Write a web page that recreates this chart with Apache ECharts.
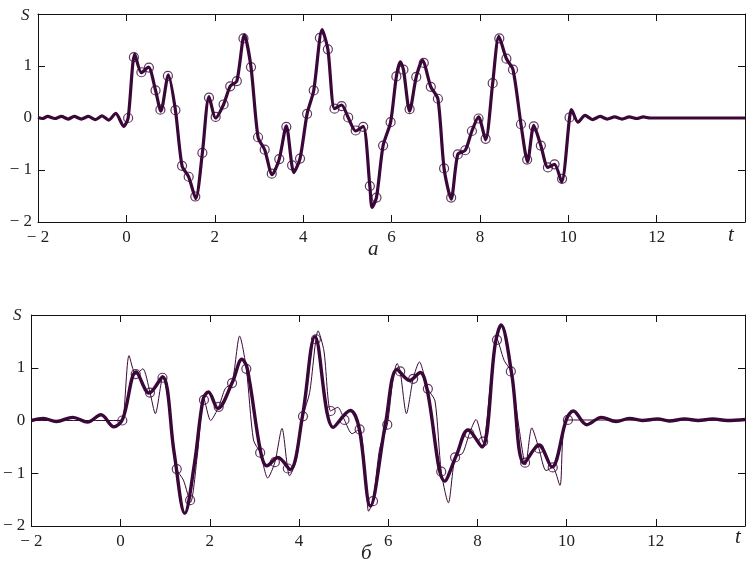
<!DOCTYPE html>
<html>
<head>
<meta charset="utf-8">
<script src="https://cdn.jsdelivr.net/npm/echarts@6/dist/echarts.min.js"></script>
<style>
    html, body { margin: 0; background: #fff; }
    #chart { width: 748px; height: 568px; }
</style>
</head>
<body>
<div id="chart"></div>
<script>
    // axis ticks
    const xTicks = [-2, 0, 2, 4, 6, 8, 10, 12];
    const yTicks = [-2, -1, 0, 1];

    // (a) samples, circles
    const sampleT = [0.04, 0.17, 0.34, 0.51, 0.66, 0.77, 0.94, 1.11, 1.26, 1.41, 1.56, 1.72, 1.87, 2.02, 2.20, 2.35, 2.50, 2.65, 2.82, 2.98,
        3.13, 3.29, 3.46, 3.62, 3.75, 3.93, 4.09, 4.24, 4.38, 4.56, 4.71, 4.87, 5.02, 5.19, 5.36, 5.51, 5.66, 5.81, 5.98, 6.11,
        6.27, 6.41, 6.56, 6.73, 6.89, 7.05, 7.19, 7.35, 7.50, 7.67, 7.82, 7.97, 8.13, 8.29, 8.44, 8.60, 8.75, 8.93, 9.07, 9.22,
        9.38, 9.54, 9.69, 9.86, 10.03];
    const sampleS = [0.00, 1.17, 0.88, 0.97, 0.53, 0.16, 0.81, 0.15, -0.92, -1.13, -1.51, -0.67, 0.39, 0.02, 0.26, 0.61, 0.71, 1.53, 0.98, -0.37,
        -0.61, -1.07, -0.79, -0.17, -0.91, -0.78, 0.08, 0.53, 1.54, 1.32, 0.18, 0.23, 0.01, -0.24, -0.17, -1.31, -1.53, -0.53, -0.08, 0.80,
        0.93, 0.17, 0.79, 1.06, 0.60, 0.37, -0.97, -1.53, -0.70, -0.62, -0.25, -0.01, -0.40, 0.67, 1.53, 1.14, 0.93, -0.12, -0.80, -0.16,
        -0.53, -0.95, -0.89, -1.17, 0.01];

    // signal s(t) on [0, 10]
    const sigT = [0.04, 0.19, 0.34, 0.50, 0.66, 0.78, 0.95, 1.11, 1.26, 1.41, 1.57, 1.72, 1.87, 2.02, 2.20, 2.35, 2.50, 2.67, 2.82, 2.98,
        3.13, 3.30, 3.46, 3.62, 3.79, 3.93, 4.09, 4.24, 4.43, 4.56, 4.71, 4.87, 5.02, 5.19, 5.36, 5.51, 5.56, 5.66, 5.81, 5.98,
        6.11, 6.20, 6.27, 6.41, 6.56, 6.70, 6.89, 7.05, 7.19, 7.35, 7.50, 7.67, 7.82, 7.97, 8.13, 8.29, 8.43, 8.60, 8.75, 8.93,
        9.08, 9.22, 9.38, 9.54, 9.69, 9.85, 10.03];
    const sigS = [0.00, 1.23, 0.87, 0.98, 0.53, 0.13, 0.83, 0.15, -0.92, -1.13, -1.55, -0.67, 0.41, 0.00, 0.26, 0.61, 0.71, 1.60, 0.98, -0.37,
        -0.61, -1.09, -0.79, -0.15, -1.05, -0.78, 0.08, 0.53, 1.70, 1.32, 0.18, 0.25, 0.01, -0.25, -0.16, -1.31, -1.72, -1.53, -0.53, -0.08,
        0.80, 1.08, 0.93, 0.13, 0.79, 1.11, 0.60, 0.37, -0.97, -1.56, -0.70, -0.62, -0.25, 0.02, -0.42, 0.67, 1.57, 1.14, 0.93, -0.12,
        -0.84, -0.14, -0.53, -0.95, -0.89, -1.23, 0.01];

    // (a) ripple before and after the signal
    const preT = [-2.00, -1.90, -1.78, -1.62, -1.47, -1.32, -1.18, -1.02, -0.86, -0.70, -0.55, -0.40, -0.24, -0.06];
    const preS = [0.01, -0.01, 0.03, -0.01, 0.03, -0.02, 0.03, -0.02, 0.03, -0.03, 0.04, -0.04, 0.09, -0.16];
    const postT = [10.07, 10.22, 10.38, 10.55, 10.72, 10.88, 11.05, 11.22, 11.38, 11.55, 11.70, 11.85, 14.00];
    const postS = [0.16, -0.08, 0.05, -0.03, 0.03, -0.02, 0.02, -0.02, 0.02, -0.01, 0.02, 0.00, 0.00];

    // (б) sparse samples
    const sparseT = [0.04, 0.34, 0.66, 0.94, 1.26, 1.56, 1.87, 2.20, 2.50, 2.82, 3.13, 3.46, 3.75, 4.09, 4.38, 4.71, 5.02, 5.36, 5.66, 5.98,
        6.27, 6.56, 6.89, 7.19, 7.50, 7.82, 8.13, 8.44, 8.75, 9.07, 9.38, 9.69, 10.03];
    const sparseS = [0.00, 0.88, 0.53, 0.81, -0.92, -1.51, 0.39, 0.26, 0.71, 0.98, -0.61, -0.79, -0.91, 0.08, 1.54, 0.18, 0.01, -0.17, -1.53, -0.08,
        0.93, 0.79, 0.60, -0.97, -0.70, -0.25, -0.40, 1.53, 0.93, -0.80, -0.53, -0.89, 0.01];

    // (б) reconstruction
    const recT = [-2.00, -1.73, -1.44, -1.07, -0.74, -0.44, -0.15, 0.05, 0.35, 0.64, 0.94, 1.20, 1.44, 1.66, 1.85, 1.97, 2.18, 2.51, 2.72, 2.84,
        3.14, 3.28, 3.53, 3.80, 4.08, 4.36, 4.77, 5.15, 5.35, 5.60, 5.94, 6.20, 6.48, 6.72, 6.87, 7.27, 7.53, 7.79, 8.10, 8.40,
        8.53, 8.77, 9.05, 9.38, 9.67, 10.00, 10.15, 10.45, 10.78, 11.11, 11.41, 11.70, 12.04, 12.30, 12.65, 12.95, 13.28, 13.60, 14.00];
    const recS = [0.00, 0.04, -0.02, 0.06, -0.03, 0.11, -0.12, 0.03, 0.92, 0.52, 0.83, -0.60, -1.76, -0.80, 0.40, 0.54, 0.23, 0.73, 1.16, 0.99,
        -0.59, -0.86, -0.70, -0.93, 0.09, 1.59, -0.13, 0.19, -0.15, -1.62, -0.06, 0.97, 0.76, 0.91, 0.60, -1.15, -0.66, -0.18, -0.50, 1.45,
        1.81, 0.88, -0.81, -0.47, -0.88, 0.03, 0.18, -0.08, 0.06, -0.02, 0.04, 0.00, 0.03, -0.01, 0.03, 0.00, 0.03, 0.00, 0.02];

    const ink = '#3a0838';
    const serif = '"Liberation Serif", "Times New Roman", serif';

    function pairs (ts, ss) {
        return ts.map(function (t, i) { return [t, ss[i]]; });
    }
    const topLine = pairs(preT, preS).concat(pairs(sigT, sigS), pairs(postT, postS));
    const thinLine = [[-2, 0], [-0.06, 0]].concat(pairs(sigT, sigS), [[14, 0]]);

    function minusFmt (v) {
        if (v < 0) return '\u2212 ' + Math.abs(v);
        return String(v);
    }

    function xAxisFor (grid, pos) {
        return {
            gridIndex: grid, type: 'value', position: pos,
            min: -2, max: 14, interval: 2,
            axisLine: { onZero: false, lineStyle: { color: '#111', width: 1 } },
            axisTick: { inside: true, length: 7, lineStyle: { color: '#111' } },
            axisLabel: {
                show: pos === 'bottom', margin: 7, color: '#222', fontSize: 17, fontFamily: serif,
                formatter: function (v) { return xTicks.indexOf(v) >= 0 ? minusFmt(v) : ''; }
            },
            splitLine: { show: false }
        };
    }
    function yAxisFor (grid, pos) {
        return {
            gridIndex: grid, type: 'value', position: pos,
            min: -2, max: 2, interval: 1,
            axisLine: { onZero: false, lineStyle: { color: '#111', width: 1 } },
            axisTick: { inside: true, length: 7, lineStyle: { color: '#111' } },
            axisLabel: {
                show: pos === 'left', margin: 6, color: '#222', fontSize: 17, fontFamily: serif,
                formatter: function (v) { return yTicks.indexOf(v) >= 0 ? minusFmt(v) : ''; }
            },
            splitLine: { show: false }
        };
    }

    const option = {
        backgroundColor: '#fff',
        animation: false,
        grid: [
            { left: 38, top: 14, width: 712, height: 208 },
            { left: 30, top: 315, width: 722, height: 211 }
        ],
        xAxis: [xAxisFor(0, 'bottom'), xAxisFor(0, 'top'), xAxisFor(1, 'bottom'), xAxisFor(1, 'top')],
        yAxis: [yAxisFor(0, 'left'), yAxisFor(0, 'right'), yAxisFor(1, 'left'), yAxisFor(1, 'right')],
        series: [
            {
                type: 'line', xAxisIndex: 0, yAxisIndex: 0, data: topLine,
                showSymbol: false, smooth: 0.25,
                lineStyle: { color: ink, width: 3.2 }
            },
            {
                type: 'scatter', xAxisIndex: 0, yAxisIndex: 0, data: pairs(sampleT, sampleS),
                symbol: 'circle', symbolSize: 9,
                itemStyle: { color: 'rgba(255,255,255,0)', borderColor: ink, borderWidth: 1.2 }
            },
            {
                type: 'line', xAxisIndex: 2, yAxisIndex: 2, data: thinLine,
                showSymbol: false, smooth: 0.25,
                lineStyle: { color: ink, width: 1 }
            },
            {
                type: 'line', xAxisIndex: 2, yAxisIndex: 2, data: pairs(recT, recS),
                showSymbol: false, smooth: 0.35,
                lineStyle: { color: ink, width: 3.4 }
            },
            {
                type: 'scatter', xAxisIndex: 2, yAxisIndex: 2, data: pairs(sparseT, sparseS),
                symbol: 'circle', symbolSize: 9,
                itemStyle: { color: 'rgba(255,255,255,0)', borderColor: ink, borderWidth: 1.2 }
            }
        ],
        graphic: [
            { type: 'text', left: 21, top: 7, style: { text: 'S', font: 'italic 17px ' + serif, fill: '#222' } },
            { type: 'text', left: 13, top: 307, style: { text: 'S', font: 'italic 17px ' + serif, fill: '#222' } },
            { type: 'text', left: 728, top: 225, style: { text: 't', font: 'italic 21px ' + serif, fill: '#222' } },
            { type: 'text', left: 735, top: 527, style: { text: 't', font: 'italic 21px ' + serif, fill: '#222' } },
            { type: 'text', left: 368, top: 239, style: { text: 'а', font: 'italic 21px ' + serif, fill: '#222' } },
            { type: 'text', left: 361, top: 543, style: { text: 'б', font: 'italic 21px ' + serif, fill: '#222' } }
        ]
    };

    const chart = echarts.init(document.getElementById('chart'));
    chart.setOption(option);
    window.addEventListener('resize', function () {
        chart.resize();
    });
</script>
</body>
</html>
